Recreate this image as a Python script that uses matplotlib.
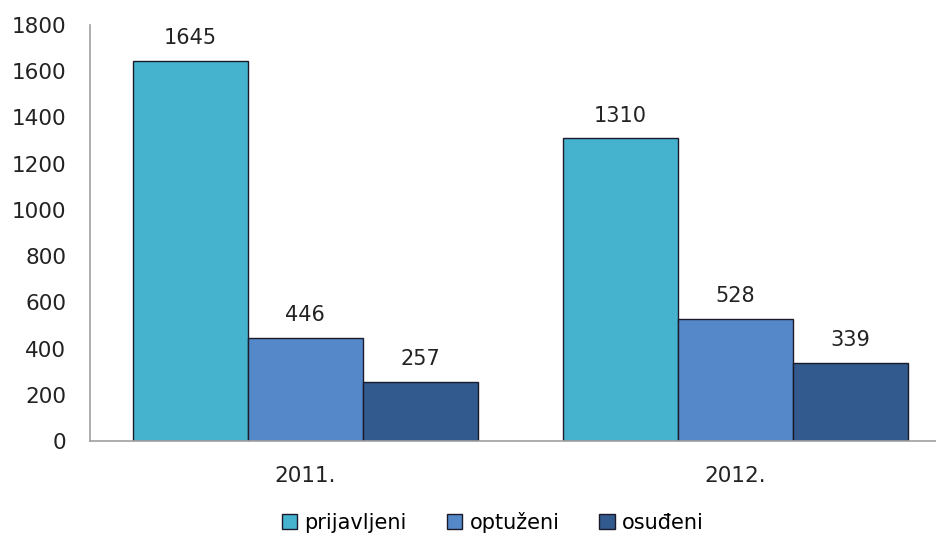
import numpy as np
import matplotlib.pyplot as plt

years = ['2011.', '2012.']
prijavljeni = [1645, 1310]
optuzeni = [446, 528]
osudeni = [257, 339]
series_names = ['prijavljeni', 'optuženi', 'osuđeni']
colors = ['#46B3CE', '#5588C8', '#325A8F']

fig = plt.figure(figsize=(9.36, 5.33), dpi=100)
ax = fig.add_axes([0.0962, 0.1726, 0.9038, 0.7805])

x = np.arange(len(years))
w = 0.267
for i, (vals, name, c) in enumerate(zip([prijavljeni, optuzeni, osudeni], series_names, colors)):
    bars = ax.bar(x + (i - 1) * w, vals, w, color=c, edgecolor='#1a1a2a', linewidth=1.0, label=name)
    for b, v in zip(bars, vals):
        ax.text(b.get_x() + b.get_width() / 2, v + 55, str(v), ha='center', va='bottom',
                fontsize=15, color='#222222')

ax.set_xlim(-0.5, 1.466)
ax.set_ylim(0, 1800)
ax.set_yticks(range(0, 1801, 200))
ax.set_xticks(x)
ax.set_xticklabels(years)
ax.tick_params(axis='both', length=0, labelsize=15.5, colors='#222222')
ax.tick_params(axis='y', pad=17)
ax.tick_params(axis='x', pad=18)
for s in ['top', 'right']:
    ax.spines[s].set_visible(False)
for s in ['left', 'bottom']:
    ax.spines[s].set_color('#A0A0A0')
    ax.spines[s].set_linewidth(1.2)

ax.legend(loc='center', bbox_to_anchor=(0.476, -0.195), ncol=3, frameon=False,
          fontsize=15, handlelength=0.75, handleheight=0.75, handletextpad=0.35,
          columnspacing=1.9)

fig.savefig('out.png', dpi=100)
